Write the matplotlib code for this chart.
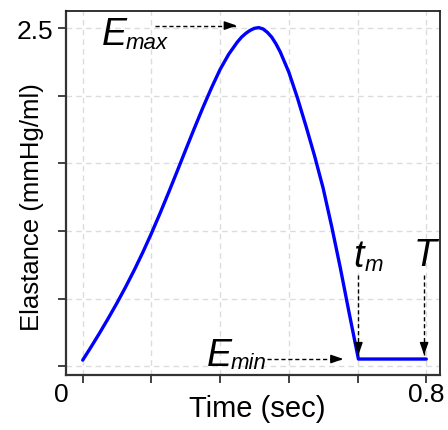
import matplotlib
matplotlib.use("Agg")
import matplotlib.pyplot as plt
from matplotlib.transforms import blended_transform_factory

# ---- data ----
time_s = [0.000, 0.020, 0.040, 0.060, 0.080, 0.100, 0.120, 0.140, 0.160, 0.180,
          0.200, 0.220, 0.240, 0.260, 0.280, 0.300, 0.320, 0.340, 0.360, 0.370,
          0.380, 0.390, 0.400, 0.410, 0.420, 0.430, 0.440, 0.450, 0.460, 0.480,
          0.500, 0.520, 0.540, 0.560, 0.580, 0.600, 0.620, 0.642, 0.800]
elastance = [0.044, 0.144, 0.248, 0.356, 0.468, 0.586, 0.710, 0.842, 0.982, 1.130,
             1.284, 1.442, 1.602, 1.760, 1.914, 2.060, 2.196, 2.308, 2.398, 2.435,
             2.463, 2.485, 2.500, 2.505, 2.495, 2.470, 2.435, 2.385, 2.325, 2.175,
             1.985, 1.775, 1.555, 1.315, 1.030, 0.725, 0.400, 0.052, 0.052]
x_ticks = [0.0, 0.16, 0.32, 0.48, 0.64, 0.8]
y_ticks = [0.0, 0.5, 1.0, 1.5, 2.0, 2.5]
x_tick_text = ["0", "0.8"]
y_tick_text = ["", "", "", "", "", "2.5"]
t_m, T_end, e_min, e_max = 0.642, 0.800, 0.052, 2.52

plt.rcParams['font.family'] = ['Liberation Sans', 'DejaVu Sans']

fig = plt.figure(figsize=(4.48, 4.31), dpi=100)
ax = fig.add_axes([66/448, 1-375.7/431, (440-66)/448, (375.7-12)/431])

ax.set_xlim(-0.0389, 0.832)
ax.set_ylim(-0.064, 2.628)

ax.set_xticks(x_ticks)
ax.set_yticks(y_ticks)
ax.set_xticklabels([])
ax.set_yticklabels(y_tick_text, fontsize=19)
ax.tick_params(axis='both', direction='out', length=5.5, width=1.3, color='#333333', pad=4)

ax.grid(True, color='#dcdcdc', linestyle=(0, (4, 3)), linewidth=1.0)
ax.set_axisbelow(True)

for side in ['left', 'bottom']:
    ax.spines[side].set_linewidth(1.6)
    ax.spines[side].set_color('#333333')
for side in ['top', 'right']:
    ax.spines[side].set_linewidth(1.3)
    ax.spines[side].set_color('#222222')

ax.plot(time_s, elastance, color='#0000ff', linewidth=2.4,
        solid_joinstyle='round', solid_capstyle='round')

# x tick labels
tr = blended_transform_factory(ax.transData, ax.transAxes)
ax.text(-0.0505, -0.053, x_tick_text[0], transform=tr, ha='center', va='center', fontsize=19)
ax.text(0.8, -0.053, x_tick_text[1], transform=tr, ha='center', va='center', fontsize=19)

ax.set_xlabel('Time (sec)', fontsize=21)
ax.set_ylabel('Elastance (mmHg/ml)', fontsize=18.5)
ax.xaxis.set_label_coords((257.5-66)/374, -(395-375.7)/363.7)
ax.yaxis.set_label_coords(-(66-44)/374, (375.7-207)/363.7)


def dashed_arrow(x0, y0, x1, y1):
    ax.plot([x0, x1], [y0, y1], color='black', linewidth=1.0, linestyle=(0, (3, 2)))
    ax.annotate('', xy=(x1, y1), xytext=(x0 + (x1 - x0) * 0.9, y0 + (y1 - y0) * 0.9),
                arrowprops=dict(arrowstyle='-|>,head_length=0.75,head_width=0.26',
                                color='black', lw=1.0, shrinkA=0, shrinkB=0))


def symbol(x, y, main, sub=None, sub_dx=17.5, ha='left'):
    ax.text(x, y, main, fontsize=27, style='italic', ha=ha, va='baseline')
    if sub:
        ax.annotate(sub, xy=(x, y), xytext=(sub_dx, -2.5), textcoords='offset points',
                    fontsize=16, style='italic', ha='left', va='baseline')


# Emax
dashed_arrow(0.168, e_max, 0.359, e_max)
symbol(0.044, 2.383, 'E', 'max')
# Emin
dashed_arrow(0.429, e_min, 0.607, e_min)
symbol(0.289, 0.0096, 'E', 'min')
# tm
dashed_arrow(t_m, 0.674, t_m, 0.081)
symbol(0.630, 0.74, 't', 'm', sub_dx=8)
# T
dashed_arrow(0.795, 0.674, 0.795, 0.081)
symbol(0.797, 0.748, 'T', ha='center')

fig.savefig('out.png', dpi=100)
